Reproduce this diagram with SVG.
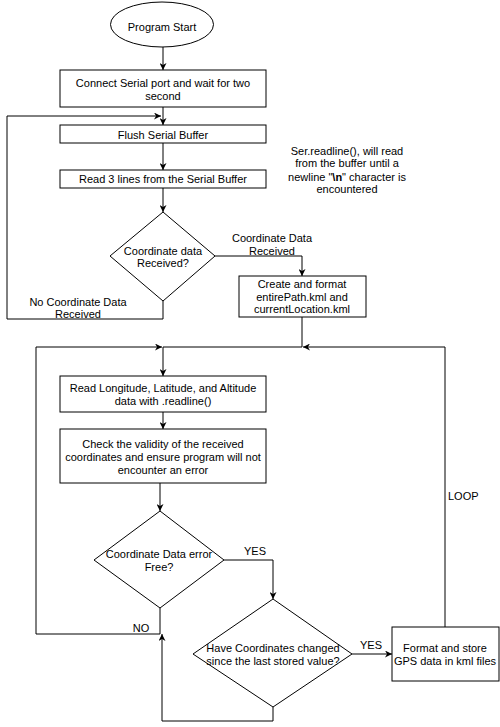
<svg xmlns="http://www.w3.org/2000/svg" width="500" height="727" viewBox="0 0 500 727">
<style>
  .n { fill: #fff; stroke: #000; stroke-width: 1; }
  .c { fill: none; stroke: #000; stroke-width: 1; }
  text { font-family: "Liberation Sans", Arial, sans-serif; font-size: 11px; fill: #000; }
  .m { text-anchor: middle; }
</style>
<defs>
  <marker id="arr" viewBox="0 0 10 10" refX="10" refY="5" markerWidth="7" markerHeight="7" markerUnits="userSpaceOnUse" orient="auto">
    <path d="M0,0 L10,5 L0,10 L3,5 Z" fill="#000"/>
  </marker>
</defs>
<rect width="500" height="727" fill="#fff"/>

<g id="connectors">
  <path class="c" d="M163,47 L163,70" marker-end="url(#arr)"/>
  <path class="c" d="M163,107 L163,125" marker-end="url(#arr)"/>
  <path class="c" d="M163,143 L163,170" marker-end="url(#arr)"/>
  <path class="c" d="M163,188 L163,212" marker-end="url(#arr)"/>
  <path class="c" d="M163,301 L163,319 L7,319 L7,116 L161,116" marker-end="url(#arr)"/>
  <path class="c" d="M215,256 L302,256 L302,276" marker-end="url(#arr)"/>
  <path class="c" d="M302,317 L302,347 L163,347"/>
  <path class="c" d="M445,627 L445,347 L303,347" marker-end="url(#arr)"/>
  <path class="c" d="M36,634 L36,347 L162,347" marker-end="url(#arr)"/>
  <path class="c" d="M163,347 L163,376" marker-end="url(#arr)"/>
  <path class="c" d="M163,412 L163,429" marker-end="url(#arr)"/>
  <path class="c" d="M160,483 L160,511" marker-end="url(#arr)"/>
  <path class="c" d="M160,608 L160,634 L36,634"/>
  <path class="c" d="M224,560 L273,560 L273,599" marker-end="url(#arr)"/>
  <path class="c" d="M273,707 L273,721 L162,721 L162,634" marker-end="url(#arr)"/>
  <path class="c" d="M352,654 L392,654" marker-end="url(#arr)"/>
  <text class="m" x="78" y="306">No Coordinate Data</text>
  <text class="m" x="78" y="318">Received</text>
  <text class="m" x="272" y="242">Coordinate Data</text>
  <text class="m" x="272" y="255">Received</text>
  <text class="m" x="141" y="632">NO</text>
  <text class="m" x="255" y="555">YES</text>
  <text class="m" x="371" y="649">YES</text>
  <text x="448" y="500">LOOP</text>
</g>

<g id="start">
  <ellipse class="n" cx="162" cy="24.5" rx="51.5" ry="22.5"/>
  <text class="m" x="162" y="31">Program Start</text>
</g>

<g id="connect">
  <rect class="n" x="60" y="70" width="206" height="37"/>
  <text class="m" x="163" y="87">Connect Serial port and wait for two</text>
  <text class="m" x="163" y="100">second</text>
</g>

<g id="flush">
  <rect class="n" x="60" y="125" width="206" height="18"/>
  <text class="m" x="163" y="139">Flush Serial Buffer</text>
</g>

<g id="read3">
  <rect class="n" x="60" y="170" width="206" height="18"/>
  <text class="m" x="163" y="183">Read 3 lines from the Serial Buffer</text>
</g>

<g id="note">
  <text class="m" x="347" y="155">Ser.readline(), will read</text>
  <text class="m" x="347" y="167">from the buffer until a</text>
  <text class="m" x="347" y="181">newline "<tspan font-weight="bold">\n</tspan>" character is</text>
  <text class="m" x="347" y="193">encountered</text>
</g>

<g id="received">
  <polygon class="n" points="163,212 215,256 163,301 110,256"/>
  <text class="m" x="163" y="255">Coordinate data</text>
  <text class="m" x="163" y="267">Received?</text>
</g>

<g id="create">
  <rect class="n" x="239" y="276" width="127" height="41"/>
  <text class="m" x="302" y="288">Create and format</text>
  <text class="m" x="302" y="301">entirePath.kml and</text>
  <text class="m" x="302" y="313">currentLocation.kml</text>
</g>

<g id="readlla">
  <rect class="n" x="60" y="376" width="206" height="36"/>
  <text class="m" x="163" y="392">Read Longitude, Latitude, and Altitude</text>
  <text class="m" x="163" y="405">data with .readline()</text>
</g>

<g id="check">
  <rect class="n" x="60" y="429" width="206" height="54"/>
  <text class="m" x="163" y="448">Check the validity of the received</text>
  <text class="m" x="163" y="461">coordinates and ensure program will not</text>
  <text class="m" x="163" y="474">encounter an error</text>
</g>

<g id="errorfree">
  <polygon class="n" points="160,511 224,560 160,608 94,560"/>
  <text class="m" x="159" y="558">Coordinate Data error</text>
  <text class="m" x="159" y="571">Free?</text>
</g>

<g id="changed">
  <polygon class="n" points="273,599 352,654 273,707 193,654"/>
  <text class="m" x="273" y="652">Have Coordinates changed</text>
  <text class="m" x="273" y="665">since the last stored value?</text>
</g>

<g id="store">
  <rect class="n" x="392" y="627" width="107" height="54"/>
  <text class="m" x="445" y="652">Format and store</text>
  <text class="m" x="445" y="665">GPS data in kml files</text>
</g>
</svg>
